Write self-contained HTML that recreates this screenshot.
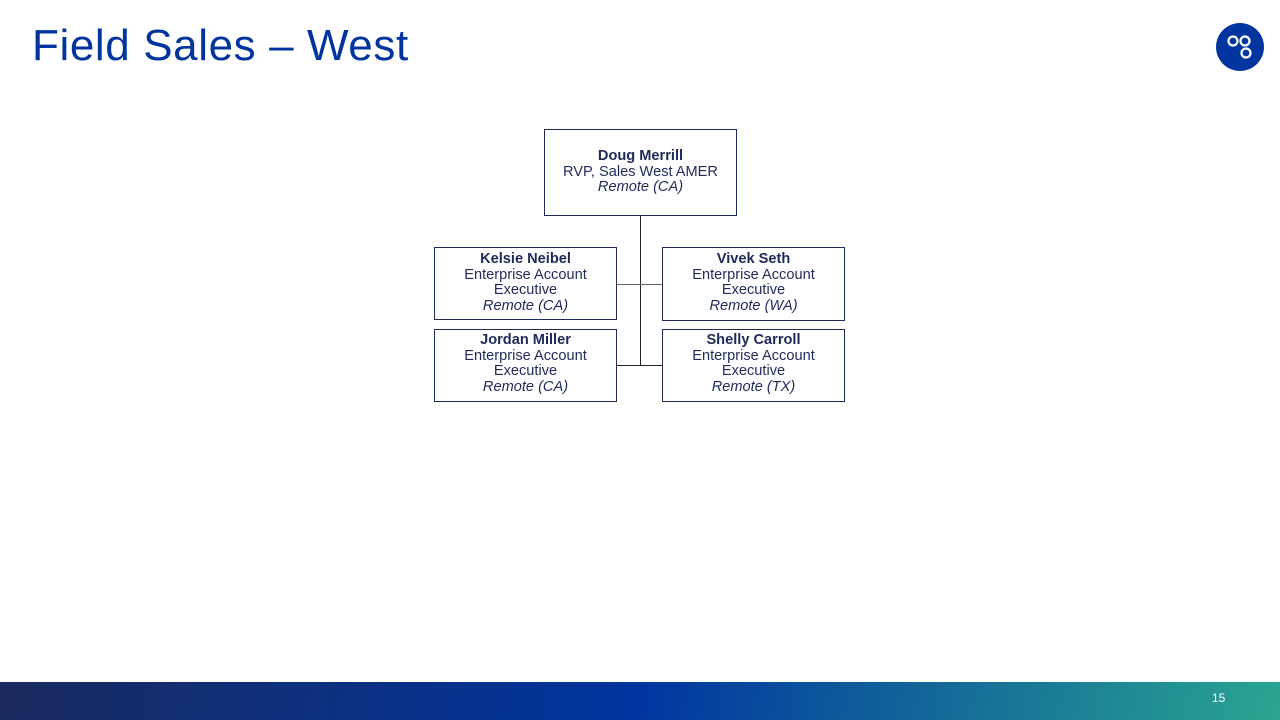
<!DOCTYPE html><html><head><style>
body{margin:0;width:1280px;height:720px;position:relative;background:#fff;overflow:hidden;font-family:"Liberation Sans",sans-serif}
.t{position:absolute;left:32px;top:21px;font-size:44px;color:#0035a0;font-weight:400;letter-spacing:0.6px}
.b{position:absolute;border:1px solid #1f2a5a;box-sizing:border-box;text-align:center;color:#1f2a5a;font-size:14.6px;line-height:15.7px;background:#fff}
.b b{display:block}.b i{display:block}
.l{position:absolute;background:#222}
.bar{position:absolute;left:0;top:682px;width:1280px;height:38px;background:linear-gradient(100deg,#1a2a5e 0%,#0035a0 50%,#2aa590 100%)}
</style></head><body>
<div class="t">Field Sales – West</div>
<svg style="position:absolute;left:1215px;top:22px" width="50" height="50"><circle cx="25" cy="25" r="24" fill="#0035a0"/><g fill="none" stroke="#fff" stroke-width="2.2"><circle cx="18" cy="19" r="4.5"/><circle cx="30" cy="19" r="4.5"/><circle cx="31" cy="31" r="4.5"/></g></svg>
<div class="l" style="left:640px;top:215px;width:1px;height:151px"></div>
<div class="l" style="left:616px;top:284px;width:46px;height:1px;background:#666"></div>
<div class="l" style="left:616px;top:365px;width:46px;height:1px"></div>
<div class="b" style="left:544px;top:129px;width:193px;height:87px;padding-top:19px"><b>Doug Merrill</b>RVP, Sales West AMER<i>Remote (CA)</i></div>
<div class="b" style="left:434px;top:247px;width:183px;height:73px;padding-top:4px"><b>Kelsie Neibel</b>Enterprise Account<br>Executive<i>Remote (CA)</i></div>
<div class="b" style="left:662px;top:247px;width:183px;height:74px;padding-top:4px"><b>Vivek Seth</b>Enterprise Account<br>Executive<i>Remote (WA)</i></div>
<div class="b" style="left:434px;top:329px;width:183px;height:73px;padding-top:3px"><b>Jordan Miller</b>Enterprise Account<br>Executive<i>Remote (CA)</i></div>
<div class="b" style="left:662px;top:329px;width:183px;height:73px;padding-top:3px"><b>Shelly Carroll</b>Enterprise Account<br>Executive<i>Remote (TX)</i></div>
<div class="bar"></div>
<div style="position:absolute;left:1212px;top:691px;color:#fff;font-size:12px">15</div>
</body></html>
